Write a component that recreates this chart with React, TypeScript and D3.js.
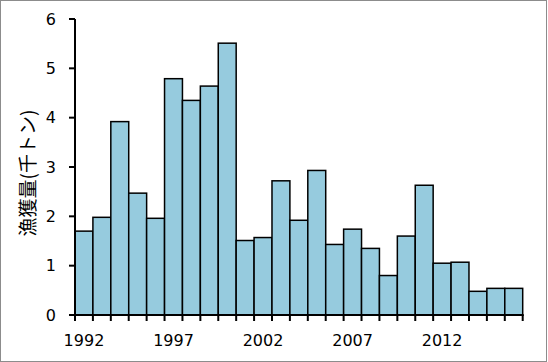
import React, { useEffect, useRef } from 'react'
import * as d3 from 'd3'

// 年ごとの漁獲量（千トン）
const years = [
  1992, 1993, 1994, 1995, 1996, 1997, 1998, 1999, 2000, 2001, 2002, 2003, 2004,
  2005, 2006, 2007, 2008, 2009, 2010, 2011, 2012, 2013, 2014, 2015, 2016,
]
const catches = [
  1.7, 1.98, 3.92, 2.47, 1.96, 4.79, 4.35, 4.64, 5.51, 1.51, 1.57, 2.72, 1.92,
  2.93, 1.43, 1.74, 1.35, 0.8, 1.6, 2.63, 1.05, 1.07, 0.48, 0.54, 0.54,
]
const yTicks = [0, 1, 2, 3, 4, 5, 6]
const xLabels = [1992, 1997, 2002, 2007, 2012]

const App = () => {
  const svgRef = useRef<SVGSVGElement>(null)

  useEffect(() => {
    const width = 548
    const height = 362
    const left = 75
    const right = 522.7
    const top = 19
    const bottom = 315
    const font = '"DejaVu Sans", Verdana, sans-serif'

    const svg = d3.select(svgRef.current)
    svg.selectAll('*').remove()
    svg.attr('width', width).attr('height', height)

    svg
      .append('rect')
      .attr('x', 0.5)
      .attr('y', 0.5)
      .attr('width', width - 2)
      .attr('height', height - 1)
      .attr('fill', 'white')
      .attr('stroke', '#8c8c8c')

    const x = d3
      .scaleBand<number>()
      .domain(years)
      .range([left, right])
      .padding(0)
    const y = d3.scaleLinear().domain([0, 6]).range([bottom, top])

    svg
      .append('g')
      .selectAll('rect')
      .data(years)
      .enter()
      .append('rect')
      .attr('x', (d) => x(d)!)
      .attr('y', (d, i) => y(catches[i]))
      .attr('width', x.bandwidth())
      .attr('height', (d, i) => bottom - y(catches[i]))
      .attr('fill', '#96cbde')
      .attr('stroke', 'black')
      .attr('stroke-width', 1.5)

    // y軸
    const yAxis = svg.append('g')
    yAxis
      .append('line')
      .attr('x1', left)
      .attr('x2', left)
      .attr('y1', top)
      .attr('y2', bottom)
      .attr('stroke', 'black')
      .attr('stroke-width', 2)
    yTicks.forEach((t) => {
      yAxis
        .append('line')
        .attr('x1', left - 6)
        .attr('x2', left)
        .attr('y1', y(t))
        .attr('y2', y(t))
        .attr('stroke', 'black')
        .attr('stroke-width', 2)
      yAxis
        .append('text')
        .attr('x', 56)
        .attr('y', y(t))
        .attr('dy', '0.36em')
        .attr('text-anchor', 'end')
        .style('font-family', font)
        .style('font-size', '16px')
        .text(t)
    })

    // x軸
    const xAxis = svg.append('g')
    xAxis
      .append('line')
      .attr('x1', left - 1)
      .attr('x2', right + 1)
      .attr('y1', bottom)
      .attr('y2', bottom)
      .attr('stroke', 'black')
      .attr('stroke-width', 2)
    const edges = years.map((d) => x(d)!).concat([right])
    edges.forEach((e) => {
      xAxis
        .append('line')
        .attr('x1', e)
        .attr('x2', e)
        .attr('y1', bottom)
        .attr('y2', bottom + 6)
        .attr('stroke', 'black')
        .attr('stroke-width', 2)
    })
    xLabels.forEach((d) => {
      xAxis
        .append('text')
        .attr('x', x(d)! + x.bandwidth() / 2)
        .attr('y', 346)
        .attr('text-anchor', 'middle')
        .style('font-family', font)
        .style('font-size', '16px')
        .text(d)
    })

    svg
      .append('text')
      .attr('transform', `translate(28, 173) rotate(-90)`)
      .attr('text-anchor', 'middle')
      .attr('dy', '0.35em')
      .style('font-family', '"Noto Sans CJK JP", sans-serif')
      .style('font-size', '19px')
      .text('漁獲量(千トン)')
  }, [])

  return (
    <div style={{ position: 'absolute', left: 0, top: 0 }}>
      <svg ref={svgRef} style={{ display: 'block' }}></svg>
    </div>
  )
}

export default App
